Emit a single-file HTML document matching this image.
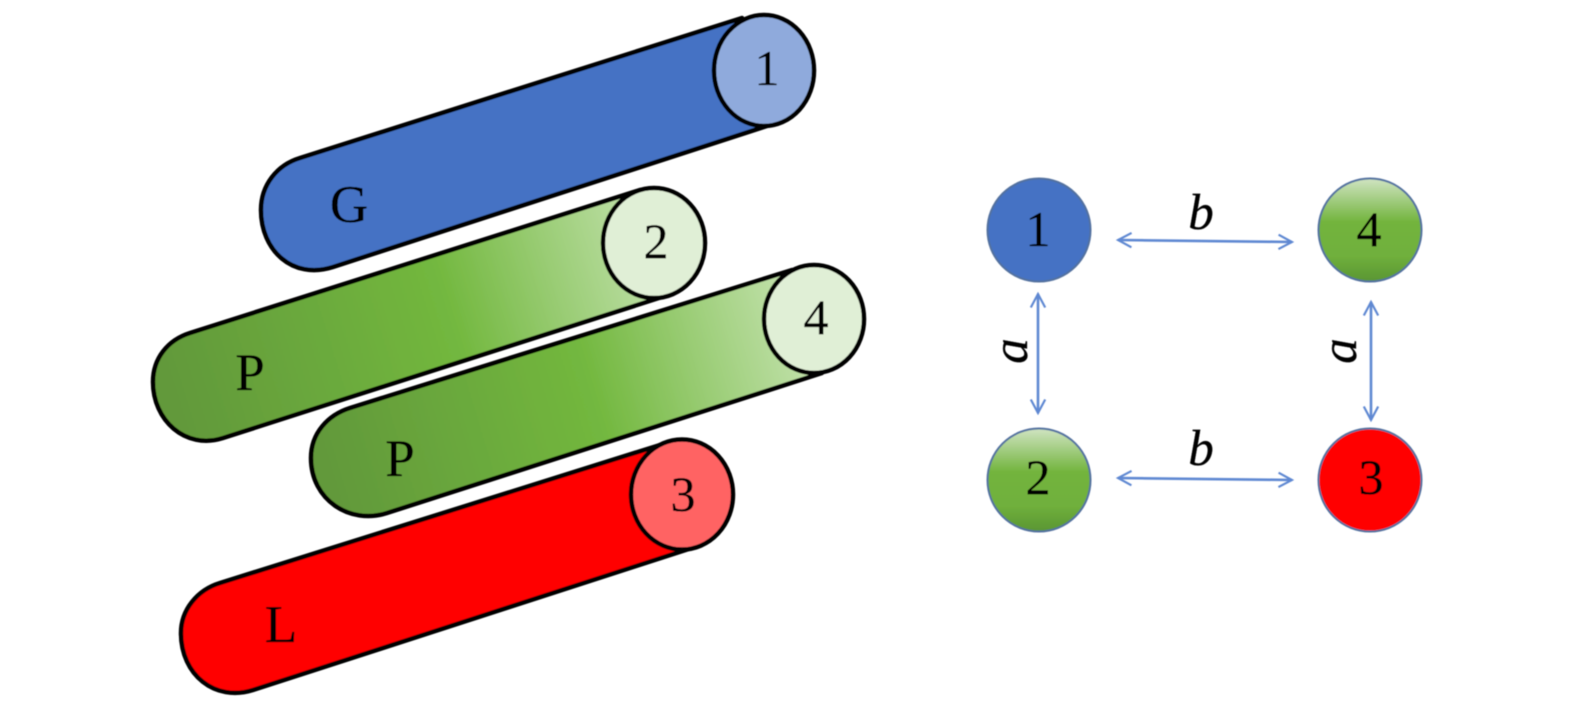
<!DOCTYPE html>
<html>
<head>
<meta charset="utf-8">
<style>
html,body{margin:0;padding:0;background:#fff;width:1575px;height:709px;overflow:hidden}
svg{display:block}
text{font-family:"Liberation Serif",serif;fill:#000;text-anchor:middle;stroke:#000;stroke-width:.3}
.i{font-style:italic;font-size:51px}
.t{font-size:50px}
.c{font-size:53px}
</style>
</head>
<body>
<svg width="1575" height="709" viewBox="0 0 1575 709" xmlns="http://www.w3.org/2000/svg">
<defs>
<linearGradient id="g1" gradientUnits="userSpaceOnUse" x1="170" y1="390" x2="650" y2="240">
<stop offset="0" stop-color="#62993a"/><stop offset=".58" stop-color="#73b83f"/><stop offset="1" stop-color="#bfe0a8"/>
</linearGradient>
<linearGradient id="g2" gradientUnits="userSpaceOnUse" x1="325" y1="465" x2="810" y2="320">
<stop offset="0" stop-color="#62993a"/><stop offset=".55" stop-color="#73b83f"/><stop offset="1" stop-color="#c5e3b0"/>
</linearGradient>
<linearGradient id="c" x1="0" y1="0" x2="0" y2="1">
<stop offset="0" stop-color="#d0e4c2"/><stop offset=".42" stop-color="#73b43e"/><stop offset=".75" stop-color="#70b03c"/><stop offset="1" stop-color="#5a9633"/>
</linearGradient>
<filter id="s" x="-5%" y="-5%" width="110%" height="110%"><feGaussianBlur stdDeviation="0.55"/></filter>
<marker id="h" viewBox="0 0 20 20" refX="18" refY="10" markerWidth="18" markerHeight="18" markerUnits="userSpaceOnUse" orient="auto-start-reverse">
<path d="M3 2 L18 10 L3 18" fill="none" stroke="#5f88d2" stroke-width="2.4"/>
</marker>
</defs>
<g filter="url(#s)">
<g stroke="#000" stroke-width="4.5" stroke-linejoin="round">
<path d="M300 158 L742 18 L776 123 L333 267 C292 280 261 250 261 210 C261 185 277 165 300 158Z" fill="#4472c4"/>
<ellipse cx="764" cy="70.500" rx="50" ry="55.500" fill="#8faadc"/>
<path d="M190 333 L640 190 L662 297 L223 438 C185 450 153 420 153 382 C153 358 168 340 190 333Z" fill="url(#g1)"/>
<ellipse cx="654" cy="243" rx="51" ry="55" fill="#e0efd6"/>
<path d="M350 408 L792 270 L822 373 L387 513 C350 525 311 500 311 458 C311 433 328 415 350 408Z" fill="url(#g2)"/>
<ellipse cx="814" cy="319" rx="50" ry="54" fill="#e0efd6"/>
<path d="M220 583 L660 445 L695 547 L253 690 C215 702 181 675 181 633 C181 610 197 590 220 583Z" fill="#ff0000"/>
<ellipse cx="682" cy="494.500" rx="51" ry="55" fill="#ff6363"/>
</g>
<text class="c" x="349" y="222">G</text>
<text class="c" x="250" y="390">P</text>
<text class="c" x="400" y="476">P</text>
<text class="c" x="281" y="642">L</text>
<text class="t" x="767" y="85">1</text>
<text class="t" x="656" y="258">2</text>
<text class="t" x="816" y="334">4</text>
<text class="t" x="683" y="511">3</text>

<circle cx="1039" cy="230" r="51.500" fill="#4472c4" stroke="#52719f" stroke-width="2"/>
<circle cx="1370" cy="230" r="51.500" fill="url(#c)" stroke="#52719f" stroke-width="2"/>
<circle cx="1039" cy="480" r="51.500" fill="url(#c)" stroke="#52719f" stroke-width="2"/>
<circle cx="1370" cy="480" r="51.500" fill="#ff0000" stroke="#52719f" stroke-width="2"/>
<text class="t" x="1038" y="246">1</text>
<text class="t" x="1369" y="246">4</text>
<text class="t" x="1038" y="494">2</text>
<text class="t" x="1371" y="494">3</text>

<g stroke="#5f88d2" stroke-width="2.6" fill="none">
<line x1="1118" y1="240" x2="1292" y2="242" marker-start="url(#h)" marker-end="url(#h)"/>
<line x1="1118" y1="478" x2="1292" y2="480" marker-start="url(#h)" marker-end="url(#h)"/>
<line x1="1038" y1="294" x2="1038" y2="413" marker-start="url(#h)" marker-end="url(#h)"/>
<line x1="1371" y1="302" x2="1371" y2="420" marker-start="url(#h)" marker-end="url(#h)"/>
</g>
<text class="i" x="1201" y="229">b</text>
<text class="i" x="1201" y="465">b</text>
<text class="i" transform="translate(1027 351) rotate(-90)">a</text>
<text class="i" transform="translate(1356 351) rotate(-90)">a</text>
</g>
</svg>
</body>
</html>
